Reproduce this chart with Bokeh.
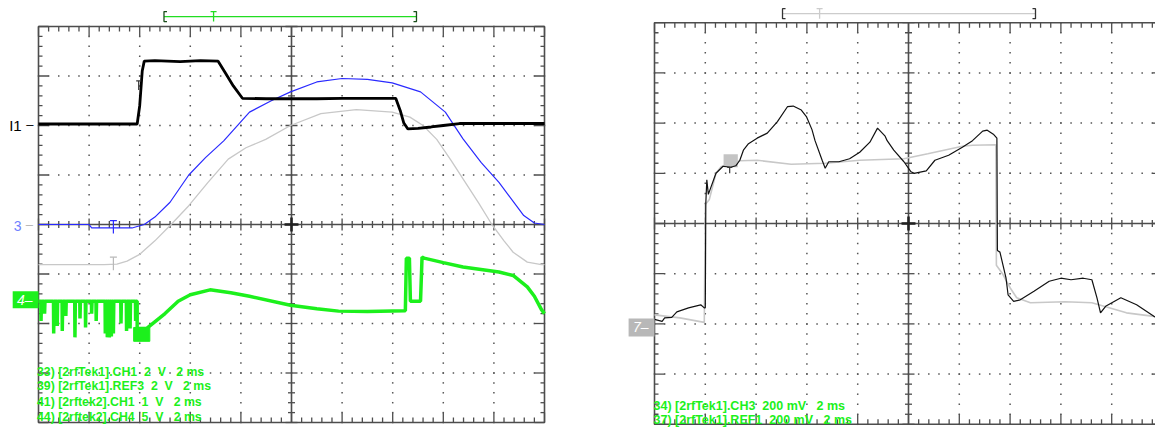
import numpy as np
from bokeh.plotting import figure
from bokeh.layouts import row
from bokeh.models import Range1d
from bokeh.core.properties import value
from bokeh.embed import file_html
from bokeh.resources import INLINE

FONT = value("Liberation Sans")
NB = "\u00a0"  # keeps the runs of blanks in the channel captions

# ---------------------------------------------------------------------------
# Left screen: 10 x 8 divisions, 2 ms/div. Values are in divisions
# (x from the left edge of the graticule, y from the centre line).
# ---------------------------------------------------------------------------
# [2rftek2].CH1  (black, ground marker "I1" at +2 div)
ch1_x = [0.0, 1.95, 2.0, 2.05, 2.09, 2.3, 2.8, 3.2, 3.55, 3.7, 3.85, 4.03,
         4.5, 5.0, 5.5, 6.0, 6.5, 7.06, 7.15, 7.22, 7.30, 7.5, 7.76, 8.0,
         8.32, 9.0, 10.0]
ch1_y = [2.03, 2.03, 2.4, 3.1, 3.30, 3.31, 3.29, 3.31, 3.30, 3.05, 2.8, 2.55,
         2.54, 2.54, 2.54, 2.55, 2.55, 2.55, 2.3, 2.05, 1.93, 1.94, 1.97, 2.0,
         2.04, 2.04, 2.04]

# [2rfTek1].REF3  (blue, marker "3" at 0 div)
ref3_x = [0.0, 1.0, 1.05, 1.85, 1.95, 2.09, 2.3, 2.6, 2.97, 3.3, 3.66, 4.17,
          4.6, 4.98, 5.5, 6.0, 6.5, 6.99, 7.55, 8.04, 8.39, 8.75, 9.1, 9.59,
          9.8, 10.0]
ref3_y = [0.0, 0.0, -0.07, -0.07, -0.04, 0.0, 0.15, 0.45, 1.0, 1.35, 1.69,
          2.27, 2.5, 2.68, 2.88, 2.95, 2.93, 2.86, 2.68, 2.27, 1.73, 1.25,
          0.85, 0.18, 0.03, 0.0]

# [2rfTek1].CH1  (light grey)
tek1_x = [0.0, 1.3, 1.55, 1.75, 1.99, 2.3, 2.62, 2.97, 3.35, 3.75, 4.1, 4.49,
          4.98, 5.58, 6.28, 6.99, 7.34, 7.6, 7.87, 8.15, 8.39, 8.7, 8.96, 9.2,
          9.38, 9.66, 9.94, 10.0]
tek1_y = [-0.81, -0.81, -0.80, -0.74, -0.61, -0.33, 0.0, 0.38, 0.85, 1.32,
          1.55, 1.72, 2.0, 2.24, 2.32, 2.27, 2.17, 2.0, 1.72, 1.3, 0.92, 0.43,
          0.0, -0.33, -0.56, -0.76, -0.81, -0.81]

# [2rftek2].CH4  (green, marker "4" at -1.55 div)
ch4_level = -1.55
ch4_spike_x = [0.05, 0.12, 0.30, 0.37, 0.47, 0.54, 0.72, 0.82, 0.93, 1.05,
               1.14, 1.32, 1.36, 1.40, 1.44, 1.48, 1.63, 1.74, 1.81, 1.92]
ch4_spike_low = [-1.95, -1.8, -2.2, -2.05, -2.15, -1.85, -2.28, -1.9, -2.08,
                 -1.8, -1.95, -2.2, -2.28, -2.28, -2.26, -2.2, -2.0, -2.15,
                 -2.1, -1.95]
ch4_x = [1.95, 1.95, 2.14, 2.2, 2.5, 2.76, 3.0, 3.39, 3.8, 4.17, 4.98, 5.5,
         5.93, 6.5, 7.25, 7.27, 7.33, 7.35, 7.55, 7.58, 7.62, 8.0, 8.39, 9.1,
         9.38, 9.66, 9.8, 9.94, 10.0]
ch4_y = [-1.55, -2.1, -2.1, -2.05, -1.8, -1.55, -1.42, -1.32, -1.38, -1.45,
         -1.63, -1.7, -1.75, -1.76, -1.74, -0.68, -0.68, -1.55, -1.55, -0.66,
         -0.68, -0.77, -0.86, -0.96, -1.03, -1.26, -1.45, -1.72, -1.8]
ch4_block = dict(left=1.88, right=2.2, bottom=-2.36, top=-2.08)

left_labels = ["33) [2rfTek1].CH1  2  V   2 ms",
               "39) [2rfTek1].REF3  2  V   2 ms",
               "41) [2rftek2].CH1  1  V   2 ms",
               "44) [2rftek2].CH4  5  V   2 ms"]

# ---------------------------------------------------------------------------
# Right screen: 200 mV/div, 2 ms/div
# ---------------------------------------------------------------------------
# [2rfTek1].CH3  (black)
ch3_x = [0.0, 0.15, 0.2, 0.34, 0.44, 0.67, 0.91, 0.98, 1.0, 1.01, 1.03, 1.06,
         1.21, 1.35, 1.5, 1.6, 1.68, 1.75, 1.85, 2.02, 2.22, 2.42, 2.62, 2.73,
         2.89, 2.99, 3.1, 3.16, 3.30, 3.36, 3.43, 3.63, 3.84, 4.04, 4.24, 4.39,
         4.54, 4.58, 4.71, 4.91, 5.05, 5.11, 5.35, 5.52, 5.79, 6.06, 6.26,
         6.46, 6.55, 6.67, 6.74, 6.75, 6.80, 6.86, 6.92, 6.96, 7.07, 7.2,
         7.47, 7.77, 8.0, 8.2, 8.44, 8.61, 8.71, 8.78, 8.88, 9.18, 9.49, 9.83,
         10.0]
ch3_y = [-1.91, -1.95, -1.88, -1.87, -1.76, -1.68, -1.62, -1.68, -1.68, 0.41,
         0.87, 0.58, 1.0, 1.14, 1.12, 1.15, 1.26, 1.46, 1.59, 1.70, 1.80, 2.03,
         2.33, 2.34, 2.26, 2.13, 1.87, 1.65, 1.26, 1.10, 1.23, 1.23, 1.29,
         1.42, 1.62, 1.90, 1.74, 1.65, 1.46, 1.23, 1.03, 1.0, 1.05, 1.26, 1.36,
         1.52, 1.65, 1.84, 1.86, 1.78, 1.70, -0.54, -0.57, -0.83, -1.09, -1.42,
         -1.55, -1.52, -1.35, -1.15, -1.09, -1.12, -1.09, -1.12, -1.48, -1.78,
         -1.65, -1.48, -1.62, -1.85, -1.92]

# [2rfTek1].REF1  (light grey, marker "7" at -2 div)
ref1_x = [0.0, 0.5, 0.98, 1.0, 1.08, 1.21, 1.31, 1.45, 1.68, 2.02, 2.69, 3.36,
          4.04, 4.91, 5.38, 6.06, 6.26, 6.72, 6.73, 6.85, 7.0, 7.13, 7.4, 8.08,
          8.61, 8.95, 9.29, 9.83, 10.0]
ref1_y = [-1.82, -1.88, -1.97, 0.38, 0.48, 1.0, 1.13, 1.18, 1.25, 1.26, 1.18,
          1.20, 1.26, 1.29, 1.39, 1.54, 1.56, 1.57, -0.83, -1.0, -1.28, -1.48,
          -1.58, -1.56, -1.58, -1.68, -1.78, -1.85, -1.87]
ref1_block = dict(left=1.36, right=1.64, bottom=1.12, top=1.38)

right_labels = ["34) [2rfTek1].CH3  200 mV   2 ms",
                "37) [2rfTek1].REF1  200 mV   2 ms"]

GRAT = "#4d4d4d"
GREEN = "#1cf01c"


def keep_blanks(s):
    return s.replace(" ", NB)


def make_screen(width, height, x_left_px, sx, y_mid_px, sy):
    p = figure(width=width, height=height, output_backend="svg",
               toolbar_location=None, min_border=0,
               x_axis_location=None, y_axis_location=None,
               outline_line_color=None, background_fill_color="white",
               border_fill_color="white",
               x_range=Range1d(-x_left_px / sx, (width - x_left_px) / sx),
               y_range=Range1d(-(height - y_mid_px) / sy, y_mid_px / sy))
    p.grid.visible = False
    return p


def graticule(p, sx, sy):
    """Scope graticule: frame, centre cross with ticks and dotted grid."""
    tx = np.round(np.arange(0, 10.001, 0.2), 3)
    ty = np.round(np.arange(-4, 4.001, 0.2), 3)
    mx = np.isclose(tx, np.round(tx))
    my = np.isclose(ty, np.round(ty))

    # dotted division lines
    dx, dy = [], []
    for gx in [1, 2, 3, 4, 6, 7, 8, 9]:
        dx += [gx] * len(ty)
        dy += list(ty)
    for gy in [-3, -2, -1, 1, 2, 3]:
        dx += list(tx)
        dy += [gy] * len(tx)
    p.scatter(x=dx, y=dy, marker="square", size=1.5, color="#555555",
              line_color=None)

    p.quad(left=0, right=10, bottom=-4, top=4, fill_color=None,
           line_color=GRAT, line_width=1.6)
    p.segment(x0=[5, 0], y0=[-4, 0], x1=[5, 10], y1=[4, 0],
              line_color=GRAT, line_width=1.6)

    # ticks on the frame (pointing inwards)
    lv = np.where(mx, 10, 5) / sy
    p.segment(x0=tx, y0=4, x1=tx, y1=4 - lv, line_color=GRAT, line_width=1.3)
    p.segment(x0=tx, y0=-4, x1=tx, y1=-4 + lv, line_color=GRAT, line_width=1.3)
    lh = np.where(my, 10, 4) / sx
    p.segment(x0=0, y0=ty, x1=lh, y1=ty, line_color=GRAT, line_width=1.3)
    p.segment(x0=10, y0=ty, x1=10 - lh, y1=ty, line_color=GRAT, line_width=1.3)

    # ticks on the centre cross
    av = np.where(mx, 6, 3.5) / sy
    p.segment(x0=tx, y0=-av, x1=tx, y1=av, line_color=GRAT, line_width=1.3)
    ah = np.where(my, 6, 3.5) / sx
    p.segment(x0=5 - ah, y0=ty, x1=5 + ah, y1=ty, line_color=GRAT,
              line_width=1.3)
    p.segment(x0=[5 - 7 / sx, 5], y0=[0, -7 / sy], x1=[5 + 7 / sx, 5],
              y1=[0, 7 / sy], line_color="#222222", line_width=2.5)


def t_marker(p, x, y_top, h_px, w_px, sx, sy, color, width=1.2):
    h, w = h_px / sy, w_px / sx
    p.segment(x0=[x, x - w / 2], y0=[y_top, y_top], x1=[x, x + w / 2],
              y1=[y_top - h, y_top], line_color=color, line_width=width)


def trigger_bar(p, x0, x1, xt, y, sx, sy, bar_color, bracket_color):
    h = 5 / sy
    s = 3 / sx
    p.segment(x0=[x0], y0=[y], x1=[x1], y1=[y], line_color=bar_color,
              line_width=1.3)
    p.multi_line(xs=[[x0 + s, x0, x0, x0 + s], [x1 - s, x1, x1, x1 - s]],
                 ys=[[y + h, y + h, y - h, y - h], [y + h, y + h, y - h, y - h]],
                 line_color=bracket_color, line_width=1.3)
    p.segment(x0=[xt, xt - s], y0=[y - h, y + h], x1=[xt, xt + s],
              y1=[y + h, y + h], line_color=bar_color, line_width=1.3)


# ------------------------------- left screen -------------------------------
LSX, LSY = 50.6, 49.5
left = make_screen(600, 428, 38, LSX, 224, LSY)
graticule(left, LSX, LSY)
trigger_bar(left, 2.48, 7.47, 3.46, 4.2, LSX, LSY, "#22dd22", "#1a4d1a")

# green CH4 trace with its glitch spikes before the ramp
gx, gy = [0.0], [ch4_level]
for sxp, low in zip(ch4_spike_x, ch4_spike_low):
    gx += [sxp - 0.004, sxp, sxp + 0.008]
    gy += [ch4_level, low, ch4_level]
gx += ch4_x
gy += ch4_y
left.line(gx, gy, line_color=GREEN, line_width=3.5)
left.quad(**ch4_block, fill_color=GREEN, line_color=GREEN)

left.line(tek1_x, tek1_y, line_color="#c8c8c8", line_width=1.3)
left.line(ref3_x, ref3_y, line_color="#2a2aff", line_width=1.2)
left.line(ch1_x, ch1_y, line_color="black", line_width=2.8)

t_marker(left, 1.48, 0.08, 13, 7, LSX, LSY, "#2a2aff")
t_marker(left, 1.48, -0.66, 13, 7, LSX, LSY, "#b8b8b8")
t_marker(left, 1.98, 2.9, 9, 5, LSX, LSY, "#333333")

# channel markers left of the frame
left.text(x=[-0.58], y=[2.0], text=["I1"], text_font=FONT,
          text_font_size="15px", text_color="black", text_align="left",
          text_baseline="middle")
left.text(x=[-0.24], y=[2.02], text=["\u2013"], text_font=FONT,
          text_font_size="13px", text_color="black", text_align="left",
          text_baseline="middle")
left.text(x=[-0.49], y=[-0.03], text=["3"], text_font=FONT,
          text_font_size="14px", text_color="#6f7fff", text_align="left",
          text_baseline="middle")
left.text(x=[-0.25], y=[0.0], text=["\u2013"], text_font=FONT,
          text_font_size="13px", text_color="#b4b4b4", text_align="left",
          text_baseline="middle")
left.quad(left=-0.51, right=0.0, bottom=-1.69, top=-1.35, fill_color=GREEN,
          line_color=None)
left.text(x=[-0.27], y=[-1.52], text=["4\u2013"], text_font=FONT,
          text_font_size="14px", text_font_style="italic", text_color="white",
          text_align="center", text_baseline="middle")

left.text(x=[-0.03] * 4, y=[-2.97, -3.27, -3.58, -3.88],
          text=[keep_blanks(s) for s in left_labels],
          text_font=FONT, text_font_size="12.3px", text_font_style="bold",
          text_color=GREEN, text_align="left", text_baseline="middle")

# ------------------------------ right screen -------------------------------
RSX, RSY = 50.8, 50.2
right = make_screen(555, 428, 54, RSX, 223, RSY)
graticule(right, RSX, RSY)
trigger_bar(right, 2.52, 7.5, 3.25, 4.18, RSX, RSY, "#cccccc", "#333333")

right.line(ref1_x, ref1_y, line_color="#c8c8c8", line_width=1.6)
right.quad(**ref1_block, fill_color="#c4c4c4", line_color=None)
right.line(ch3_x, ch3_y, line_color="#111111", line_width=1.2)
t_marker(right, 1.48, 1.12, 6, 5, RSX, RSY, "#333333")

right.quad(left=-0.51, right=0.0, bottom=-2.25, top=-1.89, fill_color="#b8b8b8",
           line_color=None)
right.text(x=[-0.27], y=[-2.07], text=["7\u2013"], text_font=FONT,
           text_font_size="14px", text_font_style="italic", text_color="white",
           text_align="center", text_baseline="middle")

right.text(x=[-0.02] * 2, y=[-3.645, -3.924],
           text=[keep_blanks(s) for s in right_labels],
           text_font=FONT, text_font_size="12.5px", text_font_style="bold",
           text_color=GREEN, text_align="left", text_baseline="middle")

layout = row(left, right)
open("out.html", "w").write(file_html(layout, INLINE))
